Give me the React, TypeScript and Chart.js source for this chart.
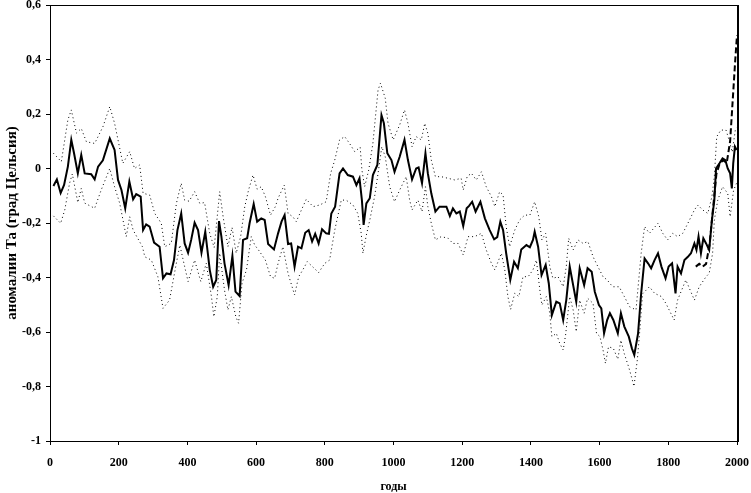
import React, { useEffect, useRef } from "react";
import { Chart, registerables } from "chart.js";

Chart.register(...registerables);

// Reconstruction (solid line)
const mainYears = [10, 20, 31, 41, 52, 62, 70, 81, 91, 101, 120, 130, 140, 154, 174, 188, 198, 208, 219, 231, 242, 251, 264, 271, 280, 290, 303, 319, 329, 339, 351, 361, 371, 382, 392, 402, 411, 421, 431, 441, 452, 460, 465, 475, 484, 492, 499, 508, 520, 531, 540, 552, 562, 574, 581, 593, 603, 615, 625, 635, 652, 664, 674, 683, 693, 702, 712, 722, 732, 743, 753, 763, 772, 782, 792, 804, 812, 819, 830, 843, 853, 867, 882, 892, 901, 908, 913, 921, 931, 940, 953, 965, 972, 982, 994, 1003, 1018, 1032, 1042, 1054, 1066, 1073, 1083, 1093, 1100, 1110, 1122, 1134, 1154, 1164, 1173, 1183, 1193, 1203, 1213, 1220, 1229, 1239, 1253, 1266, 1280, 1293, 1302, 1311, 1319, 1328, 1340, 1351, 1362, 1372, 1387, 1397, 1406, 1411, 1421, 1431, 1443, 1452, 1461, 1474, 1484, 1494, 1503, 1513, 1523, 1532, 1542, 1555, 1565, 1577, 1586, 1598, 1605, 1613, 1622, 1630, 1640, 1653, 1662, 1672, 1685, 1694, 1701, 1712, 1721, 1731, 1741, 1750, 1760, 1770, 1780, 1792, 1801, 1811, 1821, 1827, 1837, 1847, 1857, 1866, 1876, 1882, 1888, 1895, 1902, 1910, 1919, 1927, 1934, 1939, 1949, 1958, 1966, 1973, 1980, 1985, 1989, 1994, 1999];
const mainValues = [-0.064, -0.04, -0.09, -0.06, 0.007, 0.105, 0.056, -0.018, 0.05, -0.018, -0.021, -0.04, 0.007, 0.03, 0.11, 0.068, -0.042, -0.079, -0.146, -0.048, -0.113, -0.094, -0.103, -0.226, -0.205, -0.213, -0.272, -0.287, -0.403, -0.385, -0.388, -0.336, -0.226, -0.165, -0.275, -0.309, -0.262, -0.199, -0.226, -0.309, -0.232, -0.317, -0.372, -0.434, -0.409, -0.193, -0.25, -0.348, -0.428, -0.321, -0.452, -0.468, -0.262, -0.256, -0.201, -0.13, -0.195, -0.183, -0.189, -0.277, -0.297, -0.238, -0.195, -0.171, -0.277, -0.275, -0.36, -0.287, -0.293, -0.236, -0.226, -0.268, -0.24, -0.275, -0.223, -0.238, -0.24, -0.165, -0.14, -0.018, 0.0, -0.024, -0.03, -0.061, -0.036, -0.116, -0.207, -0.128, -0.109, -0.024, 0.013, 0.196, 0.166, 0.056, 0.031, -0.012, 0.043, 0.105, 0.031, -0.04, 0.0, 0.004, -0.054, 0.056, -0.018, -0.091, -0.158, -0.14, -0.14, -0.174, -0.146, -0.165, -0.158, -0.211, -0.146, -0.137, -0.122, -0.158, -0.122, -0.183, -0.226, -0.26, -0.252, -0.195, -0.226, -0.311, -0.409, -0.342, -0.366, -0.297, -0.281, -0.289, -0.262, -0.232, -0.287, -0.391, -0.354, -0.421, -0.538, -0.489, -0.495, -0.556, -0.483, -0.36, -0.428, -0.489, -0.366, -0.428, -0.366, -0.379, -0.452, -0.501, -0.513, -0.605, -0.556, -0.531, -0.556, -0.605, -0.531, -0.58, -0.617, -0.66, -0.684, -0.605, -0.458, -0.33, -0.348, -0.366, -0.336, -0.311, -0.36, -0.403, -0.36, -0.348, -0.458, -0.36, -0.385, -0.336, -0.324, -0.311, -0.275, -0.299, -0.25, -0.311, -0.256, -0.275, -0.299, -0.189, -0.116, 0.0, 0.019, 0.037, 0.031, 0.0, -0.018, -0.073, 0.019, 0.08, 0.068];

// Upper bound (dotted)
const upperYears = [10, 33, 52, 62, 77, 91, 106, 130, 154, 174, 188, 198, 212, 232, 246, 261, 271, 290, 305, 324, 334, 353, 368, 382, 392, 405, 421, 436, 450, 465, 478, 494, 504, 518, 530, 542, 555, 567, 578, 591, 603, 615, 627, 642, 656, 664, 682, 693, 707, 717, 732, 746, 766, 785, 804, 817, 829, 843, 858, 872, 887, 903, 908, 916, 928, 940, 955, 962, 976, 984, 999, 1018, 1032, 1042, 1054, 1066, 1081, 1091, 1100, 1110, 1122, 1139, 1159, 1178, 1197, 1203, 1215, 1227, 1241, 1256, 1270, 1285, 1295, 1309, 1319, 1328, 1338, 1353, 1367, 1382, 1397, 1411, 1423, 1432, 1443, 1455, 1464, 1479, 1494, 1503, 1510, 1523, 1537, 1552, 1566, 1581, 1595, 1610, 1622, 1638, 1657, 1672, 1687, 1706, 1721, 1731, 1745, 1770, 1784, 1798, 1813, 1827, 1842, 1857, 1876, 1886, 1900, 1915, 1927, 1934, 1941, 1953, 1968, 1978, 1986, 1995, 2000];
const upperValues = [0.056, 0.025, 0.178, 0.215, 0.13, 0.147, 0.098, 0.092, 0.153, 0.227, 0.166, 0.105, 0.019, 0.062, 0.0, 0.013, -0.091, -0.097, -0.165, -0.201, -0.287, -0.275, -0.128, -0.054, -0.116, -0.12, -0.085, -0.128, -0.125, -0.238, -0.29, -0.085, -0.177, -0.287, -0.216, -0.311, -0.25, -0.14, -0.079, -0.024, -0.076, -0.067, -0.103, -0.171, -0.14, -0.109, -0.061, -0.165, -0.177, -0.195, -0.152, -0.113, -0.14, -0.134, -0.122, -0.018, 0.031, 0.105, 0.117, 0.092, 0.062, 0.078, -0.005, -0.067, -0.005, 0.092, 0.288, 0.313, 0.258, 0.166, 0.105, 0.16, 0.215, 0.166, 0.08, 0.117, 0.105, 0.166, 0.129, 0.031, -0.03, -0.03, -0.036, -0.042, -0.036, -0.079, -0.028, -0.018, -0.042, -0.012, -0.067, -0.103, -0.14, -0.085, -0.097, -0.213, -0.287, -0.226, -0.189, -0.171, -0.171, -0.122, -0.177, -0.262, -0.238, -0.36, -0.403, -0.397, -0.434, -0.36, -0.256, -0.299, -0.262, -0.275, -0.268, -0.324, -0.36, -0.397, -0.409, -0.434, -0.434, -0.47, -0.507, -0.519, -0.311, -0.213, -0.238, -0.201, -0.238, -0.262, -0.238, -0.25, -0.238, -0.201, -0.152, -0.134, -0.152, -0.165, -0.103, -0.03, 0.117, 0.141, 0.141, 0.1, 0.06, 0.14, 0.15];

// Lower bound (dotted)
const lowerYears = [10, 31, 43, 57, 65, 81, 91, 101, 130, 149, 174, 188, 203, 222, 232, 242, 269, 276, 295, 314, 329, 348, 366, 378, 392, 402, 421, 439, 455, 470, 477, 487, 494, 508, 518, 528, 541, 549, 559, 572, 586, 596, 607, 627, 642, 654, 664, 678, 693, 712, 724, 736, 749, 769, 782, 800, 814, 829, 848, 862, 882, 896, 906, 911, 921, 931, 945, 955, 966, 976, 989, 1003, 1018, 1037, 1047, 1054, 1071, 1083, 1093, 1100, 1110, 1122, 1139, 1159, 1173, 1188, 1203, 1217, 1236, 1256, 1270, 1285, 1295, 1314, 1324, 1333, 1341, 1353, 1365, 1377, 1392, 1406, 1416, 1426, 1432, 1445, 1455, 1461, 1474, 1484, 1494, 1501, 1513, 1523, 1532, 1542, 1555, 1565, 1581, 1591, 1601, 1610, 1617, 1626, 1640, 1653, 1662, 1672, 1685, 1694, 1700, 1710, 1718, 1725, 1745, 1760, 1780, 1793, 1817, 1827, 1851, 1876, 1890, 1910, 1919, 1929, 1934, 1944, 1958, 1973, 1980, 1990, 2000];
const lowerValues = [-0.174, -0.201, -0.152, -0.054, -0.02, -0.125, -0.073, -0.127, -0.146, -0.079, 0.0, -0.067, -0.128, -0.25, -0.177, -0.226, -0.287, -0.324, -0.336, -0.397, -0.513, -0.483, -0.36, -0.281, -0.36, -0.415, -0.336, -0.415, -0.348, -0.47, -0.544, -0.47, -0.311, -0.446, -0.519, -0.47, -0.544, -0.568, -0.421, -0.372, -0.25, -0.281, -0.299, -0.336, -0.397, -0.403, -0.348, -0.287, -0.385, -0.464, -0.397, -0.372, -0.342, -0.366, -0.382, -0.348, -0.336, -0.226, -0.116, -0.116, -0.134, -0.165, -0.238, -0.311, -0.244, -0.189, -0.103, -0.018, 0.08, 0.043, -0.067, -0.122, -0.079, -0.03, -0.116, -0.152, -0.116, -0.158, -0.067, -0.14, -0.201, -0.262, -0.25, -0.256, -0.275, -0.275, -0.317, -0.25, -0.25, -0.238, -0.299, -0.348, -0.372, -0.311, -0.372, -0.47, -0.517, -0.458, -0.47, -0.397, -0.397, -0.372, -0.336, -0.446, -0.501, -0.47, -0.531, -0.617, -0.605, -0.642, -0.666, -0.611, -0.47, -0.519, -0.599, -0.483, -0.531, -0.476, -0.495, -0.605, -0.617, -0.666, -0.715, -0.654, -0.66, -0.7, -0.63, -0.68, -0.73, -0.77, -0.8, -0.7, -0.58, -0.46, -0.434, -0.458, -0.47, -0.495, -0.556, -0.483, -0.409, -0.483, -0.434, -0.397, -0.385, -0.311, -0.189, -0.116, -0.067, -0.091, -0.177, -0.08, -0.05];

// Instrumental record (dashed)
const dashYears = [1880, 1890, 1900, 1910, 1920, 1930, 1940, 1950, 1960, 1970, 1980, 1985, 1990, 1995, 2000];
const dashValues = [-0.36, -0.35, -0.36, -0.35, -0.28, -0.15, -0.02, 0.02, 0.03, 0.02, 0.1, 0.2, 0.3, 0.4, 0.49];

const xTitle = "годы";
const yTitle = "аномалии Та (град Цельсия)";

const toPoints = (xs: number[], ys: number[]) => xs.map((x, i) => ({ x, y: ys[i] }));

const fmtY = (v: number) => {
  const r = Number(Number(v).toFixed(1));
  const s = (Object.is(r, -0) ? 0 : r).toString();
  return s.replace(".", ",");
};

const fmtX = (v: number) => String(Math.round(Number(v)));

const framePlugin = {
  id: "frame",
  afterDraw(chart: any) {
    const { ctx, chartArea } = chart;
    ctx.save();
    ctx.strokeStyle = "#000";
    ctx.lineWidth = 1;
    ctx.strokeRect(
      Math.round(chartArea.left) + 0.5,
      Math.round(chartArea.top) + 0.5,
      Math.round(chartArea.right - chartArea.left),
      Math.round(chartArea.bottom - chartArea.top)
    );
    ctx.lineWidth = 2;
    ctx.beginPath();
    ctx.moveTo(Math.round(chartArea.right) + 1, chartArea.top);
    ctx.lineTo(Math.round(chartArea.right) + 1, chartArea.bottom + 1);
    ctx.stroke();
    ctx.restore();
  },
};

export default function App() {
  const ref = useRef<HTMLCanvasElement | null>(null);

  useEffect(() => {
    if (!ref.current) return;
    const font = { family: "'Liberation Serif', 'Times New Roman', serif", weight: "bold" as const, size: 12 };
    const chart = new Chart(ref.current, {
      type: "line",
      data: {
        datasets: [
          {
            label: "upper",
            data: toPoints(upperYears, upperValues),
            borderColor: "#000",
            borderWidth: 1,
            borderDash: [1, 3],
            pointRadius: 0,
            fill: false,
            tension: 0,
          },
          {
            label: "lower",
            data: toPoints(lowerYears, lowerValues),
            borderColor: "#000",
            borderWidth: 1,
            borderDash: [1, 3],
            pointRadius: 0,
            fill: false,
            tension: 0,
          },
          {
            label: "instrumental",
            data: toPoints(dashYears, dashValues),
            borderColor: "#000",
            borderWidth: 2,
            borderDash: [6, 3],
            pointRadius: 0,
            fill: false,
            tension: 0,
          },
          {
            label: "reconstruction",
            data: toPoints(mainYears, mainValues),
            borderColor: "#000",
            borderWidth: 2,
            pointRadius: 0,
            fill: false,
            tension: 0,
          },
        ],
      },
      options: {
        responsive: false,
        animation: false,
        layout: { padding: { top: 5, right: 14, left: 0, bottom: 0 } },
        plugins: {
          legend: { display: false },
          tooltip: { enabled: false },
        },
        scales: {
          x: {
            type: "linear",
            min: 0,
            max: 2000,
            ticks: { stepSize: 200, color: "#000", font, padding: 11, maxRotation: 0, callback: (v: any) => fmtX(v) },
            grid: { drawOnChartArea: false, drawTicks: true, tickLength: 4, color: "#000" },
            border: { display: true, color: "#000", width: 1 },
            title: { display: true, text: xTitle, color: "#000", font: { ...font, lineHeight: 1 }, padding: { top: 0, bottom: 0 } },
            afterFit: (s: any) => {
              s.height = 52;
              s.paddingLeft = 0;
              s.paddingRight = 0;
            },
          },
          y: {
            min: -1,
            max: 0.6,
            ticks: { stepSize: 0.2, color: "#000", font, padding: 5, callback: (v: any) => fmtY(v) },
            grid: { drawOnChartArea: false, drawTicks: true, tickLength: 4, color: "#000" },
            border: { display: true, color: "#000", width: 1 },
            title: { display: true, text: yTitle, color: "#000", font: { ...font, size: 15 }, padding: { top: 3, bottom: 0 } },
            afterFit: (s: any) => {
              s.width = 50;
              s.paddingTop = 0;
              s.paddingBottom = 0;
            },
          },
        },
      },
      plugins: [framePlugin],
    });
    return () => chart.destroy();
  }, []);

  return (
    <div style={{ position: "absolute", left: 0, top: 0, width: 751, height: 493, background: "#fff" }}>
      <canvas ref={ref} width={751} height={493} style={{ display: "block" }} />
    </div>
  );
}
